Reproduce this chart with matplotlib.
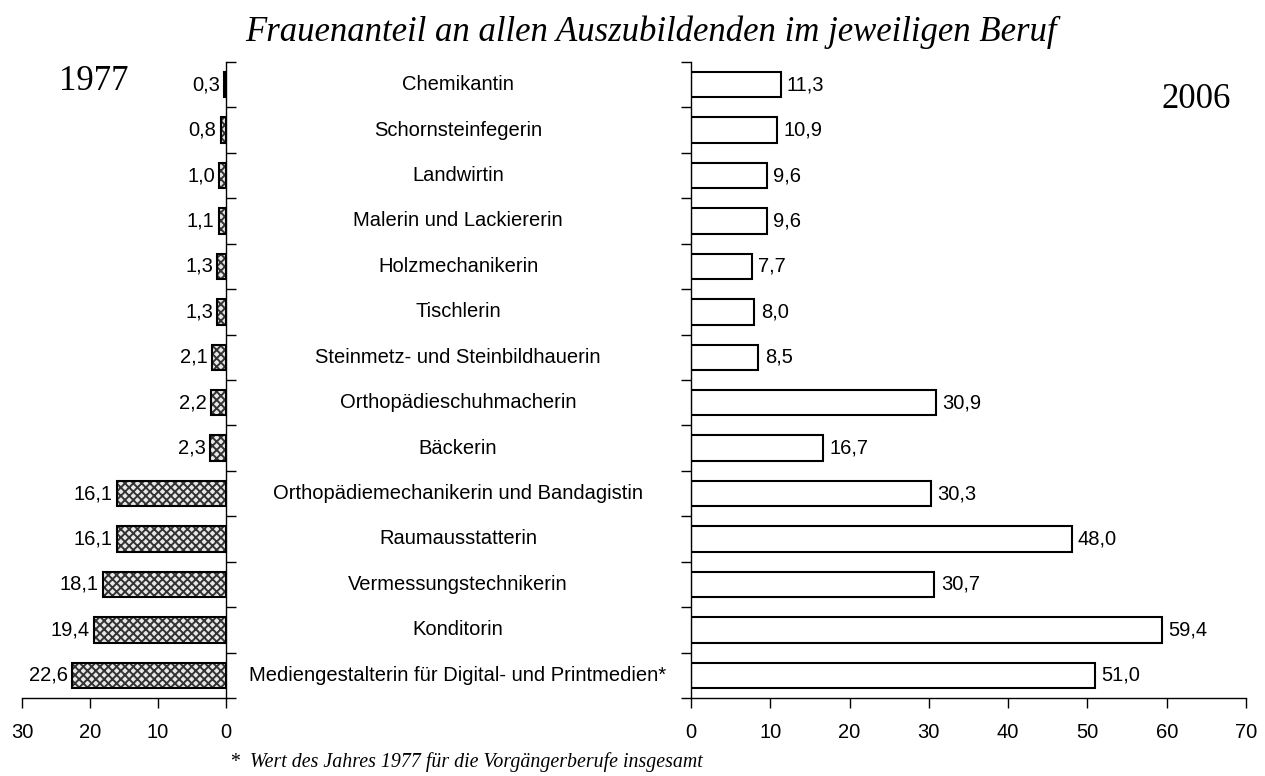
import matplotlib
matplotlib.use("Agg")
import matplotlib.pyplot as plt
import matplotlib.transforms as mtransforms
import numpy as np

categories = [
    "Chemikantin",
    "Schornsteinfegerin",
    "Landwirtin",
    "Malerin und Lackiererin",
    "Holzmechanikerin",
    "Tischlerin",
    "Steinmetz- und Steinbildhauerin",
    "Orthopädieschuhmacherin",
    "Bäckerin",
    "Orthopädiemechanikerin und Bandagistin",
    "Raumausstatterin",
    "Vermessungstechnikerin",
    "Konditorin",
    "Mediengestalterin für Digital- und Printmedien*",
]
values_1977 = [0.3, 0.8, 1.0, 1.1, 1.3, 1.3, 2.1, 2.2, 2.3, 16.1, 16.1, 18.1, 19.4, 22.6]
values_2006 = [11.3, 10.9, 9.6, 9.6, 7.7, 8.0, 8.5, 30.9, 16.7, 30.3, 48.0, 30.7, 59.4, 51.0]
left_ticks = [30, 20, 10, 0]
right_ticks = [0, 10, 20, 30, 40, 50, 60, 70]

title = "Frauenanteil an allen Auszubildenden im jeweiligen Beruf"
footnote = "*  Wert des Jahres 1977 für die Vorgängerberufe insgesamt"

sans = "Liberation Sans"
serif = "Liberation Serif"
plt.rcParams['font.family'] = sans
plt.rcParams['hatch.linewidth'] = 1.4

FS = 14.5

def fmt(v):
    return f"{v:.1f}".replace(".", ",")

fig = plt.figure(figsize=(12.65, 7.76), dpi=100)
W, H = 1265, 776
def ax_rect(x0, x1, ytop, ybot):
    return [x0 / W, 1 - ybot / H, (x1 - x0) / W, (ybot - ytop) / H]

ax1 = fig.add_axes(ax_rect(22, 226, 62, 698))
ax2 = fig.add_axes(ax_rect(691, 1246, 62, 698))

y = np.arange(len(categories))
bh = 0.56

ax1.barh(y, values_1977, height=bh, facecolor="#e8e8e8", edgecolor="#333333",
         linewidth=0, hatch="xxxx")
ax1.barh(y, values_1977, height=bh, facecolor="none", edgecolor="black",
         linewidth=1.5)
ax2.barh(y, values_2006, height=bh, facecolor="white", edgecolor="black",
         linewidth=1.5)

for ax in (ax1, ax2):
    ax.set_ylim(len(categories) - 0.5, -0.5)
    ax.set_yticks(np.arange(-0.5, len(categories), 1))
    ax.set_yticklabels([])
    ax.spines['top'].set_visible(False)
    ax.tick_params(axis='both', direction='out', length=7, width=1, labelsize=FS)
    ax.tick_params(axis='x', pad=11)
    for s in ax.spines.values():
        s.set_linewidth(1)

ax1.set_xlim(30, 0)
ax1.set_xticks(left_ticks)
ax1.set_xticklabels([str(t) for t in left_ticks])
ax1.spines['left'].set_visible(False)
ax1.yaxis.tick_right()

ax2.set_xlim(0, 70)
ax2.set_xticks(right_ticks)
ax2.set_xticklabels([str(t) for t in right_ticks])
ax2.spines['right'].set_visible(False)

for yi, v in zip(y, values_1977):
    ax1.text(v + 0.6, yi, fmt(v), ha="right", va="center", fontsize=FS)
for yi, v in zip(y, values_2006):
    ax2.text(v + 0.8, yi, fmt(v), ha="left", va="center", fontsize=FS)

trans = mtransforms.blended_transform_factory(fig.transFigure, ax2.transData)
for yi, c in zip(y, categories):
    fig.text(458 / W, yi, c, transform=trans, ha="center", va="center", fontsize=FS)

fig.text(651 / W, 1 - 32 / H, title, ha="center", va="center", fontsize=25,
         family=serif, style="italic")
fig.text(94 / W, 1 - 82 / H, "1977", ha="center", va="center", fontsize=25, family=serif)
fig.text(1196 / W, 1 - 100 / H, "2006", ha="center", va="center", fontsize=25, family=serif)
fig.text(230 / W, 1 - 762 / H, footnote, ha="left", va="center", fontsize=14.3,
         family=serif, style="italic")

fig.savefig("out.png", dpi=100)
